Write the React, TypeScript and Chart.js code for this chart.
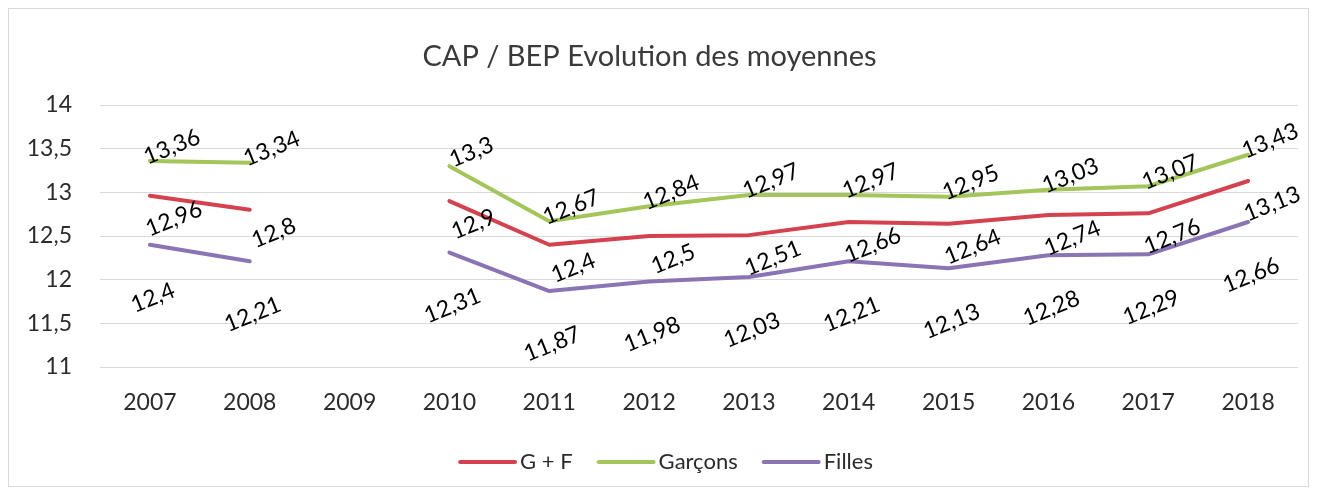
import React, { useEffect, useRef } from "react";
import { Chart, registerables } from "chart.js";

Chart.register(...registerables);

const chartTitle = "CAP / BEP Evolution des moyennes";
const categories = ["2007", "2008", "2009", "2010", "2011", "2012", "2013", "2014", "2015", "2016", "2017", "2018"];
const seriesNames = ["G + F", "Garçons", "Filles"];
const gf = [12.96, 12.8, null, 12.9, 12.4, 12.5, 12.51, 12.66, 12.64, 12.74, 12.76, 13.13];
const garcons = [13.36, 13.34, null, 13.3, 12.67, 12.84, 12.97, 12.97, 12.95, 13.03, 13.07, 13.43];
const filles = [12.4, 12.21, null, 12.31, 11.87, 11.98, 12.03, 12.21, 12.13, 12.28, 12.29, 12.66];
const yMin = 11;
const yMax = 14;
const yStep = 0.5;

const colors = ["#d4424f", "#a3c55a", "#8b74b4"];
const FONT = "Lato, 'Open Sans', sans-serif";
const TEXT = "#2b2b2b";

const fmt = (v: number) => String(v).replace(".", ",");

// per-series label offsets (dx, dy) in px relative to the point
const labelOffsets = [
  [24, 23],
  [22, -14],
  [3, 53],
];

const decorPlugin = {
  id: "decor",
  afterDatasetsDraw(chart: any) {
    const ctx = chart.ctx;
    ctx.save();
    ctx.font = `23px ${FONT}`;
    ctx.fillStyle = "#000000";
    ctx.textAlign = "center";
    ctx.textBaseline = "middle";
    chart.data.datasets.forEach((ds: any, di: number) => {
      const meta = chart.getDatasetMeta(di);
      meta.data.forEach((pt: any, i: number) => {
        const v = ds.data[i];
        if (v === null || v === undefined) return;
        const [dx, dy] = labelOffsets[di];
        ctx.save();
        ctx.translate(pt.x + dx, pt.y + dy);
        ctx.rotate((-22 * Math.PI) / 180);
        ctx.fillText(fmt(v), 0, 0);
        ctx.restore();
      });
    });
    ctx.restore();
  },
  afterDraw(chart: any) {
    const ctx = chart.ctx;
    const w = chart.width;
    ctx.save();
    // title
    ctx.font = `29px ${FONT}`;
    ctx.fillStyle = "#3a3a3a";
    ctx.textAlign = "center";
    ctx.textBaseline = "middle";
    ctx.fillText(chartTitle, w / 2 - 9, 48);
    // legend
    ctx.font = `22px ${FONT}`;
    const lineLen = 55;
    const gap = 5;
    const spacing = 26;
    const widths = seriesNames.map((n) => ctx.measureText(n).width);
    const total = widths.reduce((a, b) => a + b + lineLen + gap, 0) + spacing * (seriesNames.length - 1);
    let x = w / 2 + 8 - total / 2;
    const y = 453;
    seriesNames.forEach((n, i) => {
      ctx.strokeStyle = colors[i];
      ctx.lineWidth = 4;
      ctx.lineCap = "round";
      ctx.beginPath();
      ctx.moveTo(x, y);
      ctx.lineTo(x + lineLen, y);
      ctx.stroke();
      ctx.fillStyle = TEXT;
      ctx.textAlign = "left";
      ctx.fillText(n, x + lineLen + gap, y);
      x += lineLen + gap + widths[i] + spacing;
    });
    ctx.restore();
  },
};

export default function App() {
  const ref = useRef<HTMLCanvasElement>(null);
  useEffect(() => {
    if (!ref.current) return;
    const mk = (label: string, data: any[], color: string) => ({
      label,
      data,
      borderColor: color,
      backgroundColor: color,
      borderWidth: 4,
      pointRadius: 0,
      pointHoverRadius: 0,
      tension: 0,
      spanGaps: false,
      borderCapStyle: "round" as const,
      borderJoinStyle: "round" as const,
    });
    const chart = new Chart(ref.current, {
      type: "line",
      data: {
        labels: categories,
        datasets: [
          mk(seriesNames[0], gf, colors[0]),
          mk(seriesNames[1], garcons, colors[1]),
          mk(seriesNames[2], filles, colors[2]),
        ],
      },
      plugins: [decorPlugin],
      options: {
        animation: false,
        responsive: false,
        maintainAspectRatio: false,
        layout: { padding: { top: 96, bottom: 59, left: 0, right: 10 } },
        plugins: {
          legend: { display: false },
          title: { display: false },
          tooltip: { enabled: false },
        },
        scales: {
          x: {
            type: "category",
            offset: true,
            grid: { display: false, drawTicks: false },
            border: { display: false },
            ticks: { color: TEXT, font: { family: FONT, size: 23 }, padding: 22, maxRotation: 0 },
            afterFit: (s: any) => {
              s.height = 60;
            },
          },
          y: {
            min: yMin,
            max: yMax,
            grid: { color: "#d9d9d9", lineWidth: 1, drawTicks: false },
            border: { display: false },
            ticks: {
              stepSize: yStep,
              color: TEXT,
              font: { family: FONT, size: 23 },
              padding: 28,
              callback: (v: any) => fmt(Number(v)),
            },
            afterFit: (s: any) => {
              s.width = 91;
            },
          },
        },
      },
    });
    return () => chart.destroy();
  }, []);
  return (
    <div style={{ width: 1299, height: 477, border: "1px solid #d9d9d9", background: "#fff" }}>
      <canvas ref={ref} width={1299} height={477} style={{ display: "block" }} />
    </div>
  );
}
